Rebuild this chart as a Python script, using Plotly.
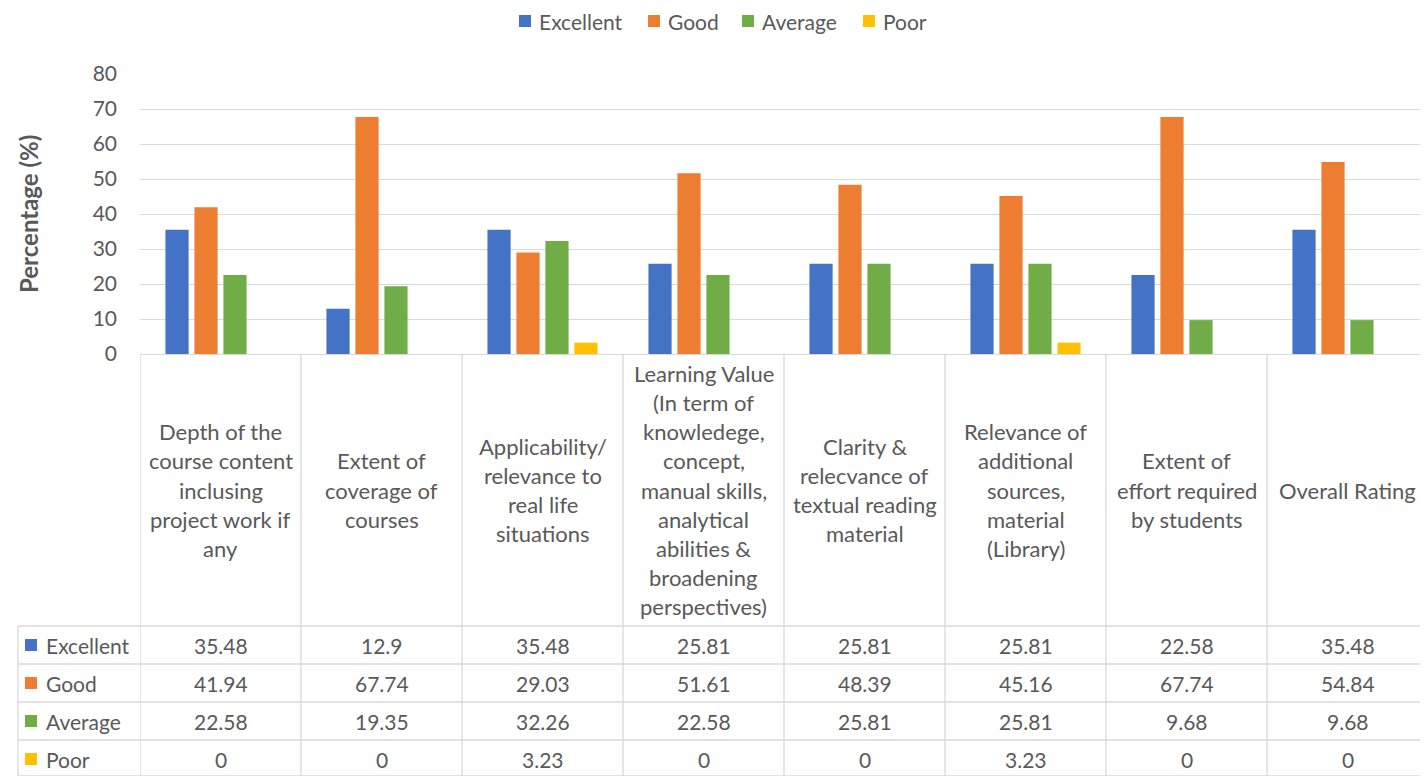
import plotly.graph_objects as go

OFF = 8  # page body margin
W, H = 1428 - OFF, 776 - OFF

categories = [
    "Depth of the<br>course content<br>inclusing<br>project work if<br>any",
    "Extent of<br>coverage of<br>courses",
    "Applicability/<br>relevance to<br>real life<br>situations",
    "Learning Value<br>(In term of<br>knowledege,<br>concept,<br>manual skills,<br>analytical<br>abilities &<br>broadening<br>perspectives)",
    "Clarity &<br>relecvance of<br>textual reading<br>material",
    "Relevance of<br>additional<br>sources,<br>material<br>(Library)",
    "Extent of<br>effort required<br>by students",
    "Overall Rating",
]
series_names = ["Excellent", "Good", "Average", "Poor"]
excellent = [35.48, 12.9, 35.48, 25.81, 25.81, 25.81, 22.58, 35.48]
good = [41.94, 67.74, 29.03, 51.61, 48.39, 45.16, 67.74, 54.84]
average = [22.58, 19.35, 32.26, 22.58, 25.81, 25.81, 9.68, 9.68]
poor = [0, 0, 3.23, 0, 0, 3.23, 0, 0]
table_labels = [
    ["35.48", "12.9", "35.48", "25.81", "25.81", "25.81", "22.58", "35.48"],
    ["41.94", "67.74", "29.03", "51.61", "48.39", "45.16", "67.74", "54.84"],
    ["22.58", "19.35", "32.26", "22.58", "25.81", "25.81", "9.68", "9.68"],
    ["0", "0", "3.23", "0", "0", "3.23", "0", "0"],
]
colors = ["#4472C4", "#ED7D31", "#70AD47", "#FFC000"]
y_ticks = [0, 10, 20, 30, 40, 50, 60, 70, 80]

FONT = "Lato, Open Sans, sans-serif"
TXT = "#595959"
GRID = "#D9D9D9"
FS = 21


def X(px):
    return (px - OFF) / W


def Y(py):
    return 1 - (py - OFF) / H


n = len(categories)
xs = list(range(n))
fig = go.Figure()
for name, vals, col in zip(series_names, [excellent, good, average, poor], colors):
    fig.add_trace(go.Bar(x=xs, y=vals, name=name, showlegend=False,
                         marker=dict(color=col, line=dict(width=0))))

plot_left, plot_right = 140, 1428
y0_px, y80_px = 354, 74

shapes = []
annotations = []

# legend (top)
legend_box_x = [519, 648, 742, 863]
for name, col, bx in zip(series_names, colors, legend_box_x):
    shapes.append(dict(type="rect", xref="paper", yref="paper", x0=X(bx), x1=X(bx + 12),
                       y0=Y(27), y1=Y(15), fillcolor=col, line=dict(width=0)))
    annotations.append(dict(x=X(bx + 18), y=Y(21), xref="paper", yref="paper", text=name, showarrow=False,
                            xanchor="left", yanchor="middle", font=dict(size=FS, color=TXT, family=FONT)))

# table horizontal lines
for py in [626, 664, 702, 740, 776]:
    shapes.append(dict(type="line", xref="paper", yref="paper", x0=X(18), x1=1, y0=Y(py), y1=Y(py),
                       line=dict(color=GRID, width=1.3)))
# left label column vertical
shapes.append(dict(type="line", xref="paper", yref="paper", x0=X(18), x1=X(18), y0=Y(626), y1=Y(776),
                   line=dict(color=GRID, width=1.3)))
# category boundaries
for i in range(n + 1):
    shapes.append(dict(type="line", xref="x", yref="paper", x0=i - 0.5, x1=i - 0.5, y0=Y(354), y1=Y(776),
                       line=dict(color=GRID, width=1.3)))

# row labels with colour keys
row_centers = [645, 683, 721, 759]
for name, col, rc in zip(series_names, colors, row_centers):
    shapes.append(dict(type="rect", xref="paper", yref="paper", x0=X(25), x1=X(37),
                       y0=Y(rc + 6), y1=Y(rc - 6), fillcolor=col, line=dict(width=0)))
    annotations.append(dict(x=X(44), y=Y(rc), xref="paper", yref="paper", text=name, showarrow=False,
                            xanchor="left", yanchor="middle", font=dict(size=FS, color=TXT, family=FONT)))

# table values
for r, rc in enumerate(row_centers):
    for i in range(n):
        annotations.append(dict(x=i, y=Y(rc), xref="x", yref="paper", text=table_labels[r][i], showarrow=False,
                                xanchor="center", yanchor="middle", font=dict(size=FS, color=TXT, family=FONT)))

# category labels (line by line)
cell_center = 490
for i, cat in enumerate(categories):
    lines = cat.split("<br>")
    m = len(lines)
    for k, ln in enumerate(lines):
        py = cell_center + (k - (m - 1) / 2) * 29.1
        annotations.append(dict(x=i, y=Y(py), xref="x", yref="paper", text=ln, showarrow=False,
                                xanchor="center", yanchor="middle", font=dict(size=22, color=TXT, family=FONT)))

# y-axis title
annotations.append(dict(x=X(28), y=Y(214), xref="paper", yref="paper", text="<b>Percentage (%)</b>",
                        showarrow=False, textangle=-90, xanchor="center", yanchor="middle",
                        font=dict(size=24, color=TXT, family=FONT)))

fig.update_layout(
    template="none",
    width=W, height=H,
    margin=dict(l=0, r=0, t=0, b=0, pad=0, autoexpand=False),
    paper_bgcolor="white", plot_bgcolor="white",
    barmode="group", bargap=0.28, bargroupgap=0.2,
    font=dict(family=FONT, color=TXT, size=FS),
    showlegend=False,
    xaxis=dict(domain=[X(plot_left), 1], range=[-0.5, n - 0.5], showticklabels=False, automargin=False,
               showgrid=False, zeroline=False, showline=False, ticks="", fixedrange=True),
    yaxis=dict(domain=[Y(y0_px), Y(y80_px)], range=[0, 80], tickvals=y_ticks, showgrid=True, gridcolor=GRID,
               gridwidth=1.3, zeroline=True, zerolinecolor=GRID, zerolinewidth=1.3, ticks="", automargin=False,
               ticklabelstandoff=22, tickfont=dict(size=FS, color=TXT, family=FONT), showline=False),
    shapes=shapes,
    annotations=annotations,
)

fig.write_html("out.html")
